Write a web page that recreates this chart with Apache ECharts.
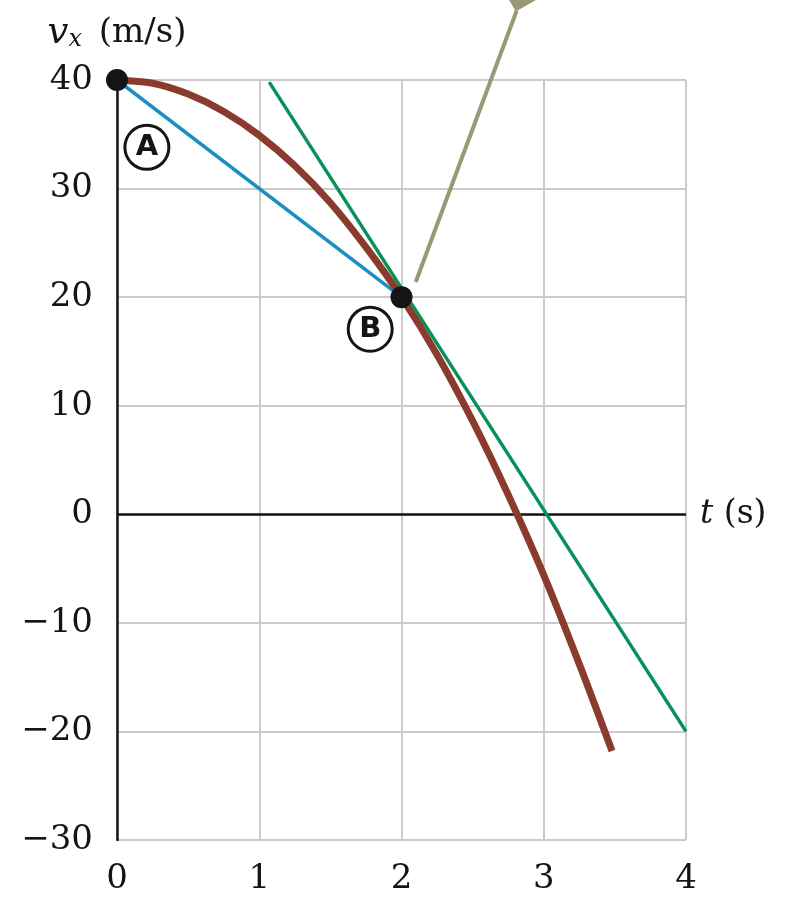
<!DOCTYPE html>
<html><head><meta charset="utf-8">
<script src="https://cdn.jsdelivr.net/npm/echarts@6/dist/echarts.min.js"></script>
<style>html,body{margin:0;padding:0;background:#fff}#c{width:786px;height:899px}</style>
</head><body><div id="c"></div>
<script>
// Data
const xTicks = [0, 1, 2, 3, 4];
const yTicks = [-30, -20, -10, 0, 10, 20, 30, 40];
const curveT = [0, 0.25, 0.5, 0.75, 1, 1.25, 1.5, 1.75, 2, 2.25, 2.5, 2.75, 3, 3.25, 3.48];
const curveV = [40, 39.7, 38.7, 37.1, 34.9, 32.1, 28.7, 24.6, 20, 14.7, 8.6, 1.8, -5.6, -13.8, -21.8];
const chordT = [0, 2];
const chordV = [40, 20];
const tangentT = [1.07, 4];
const tangentV = [39.8, -20];
const pointerT = [2.1, 2.81];
const pointerV = [21.4, 46.4];
const pointerHead = [[2.82, 47.1]];
const dotPoints = [[0, 40], [2, 20]];
const markerNames = ['A', 'B'];
const markerPos = [[0.21, 33.8], [1.78, 17.05]];

const zip = (a, b) => a.map((v, i) => [v, b[i]]);
const serif = 'DejaVu Serif';
const ink = '#151515';
const chart = echarts.init(document.getElementById('c'));
chart.setOption({
  animation: false,
  grid: { left: 117, right: 100, top: 80, bottom: 59, containLabel: false },
  xAxis: {
    type: 'value', min: 0, max: 4, interval: 1,
    axisLine: { show: false, onZero: false },
    axisTick: { show: false },
    splitLine: { show: true, lineStyle: { color: '#cbcbcb', width: 2 } },
    axisLabel: { margin: 22, fontFamily: serif, fontSize: 34, color: ink,
      formatter: v => xTicks.includes(v) ? String(v) : '' }
  },
  yAxis: {
    type: 'value', min: -30, max: 40, interval: 10,
    name: '{v|v}{s|x} (m/s)',
    nameLocation: 'end', nameGap: 28,
    nameTextStyle: { fontFamily: serif, fontSize: 34, color: ink, align: 'center',
      rich: { v: { fontFamily: serif, fontStyle: 'italic', fontSize: 37, color: ink },
              s: { fontFamily: serif, fontStyle: 'italic', fontSize: 24, color: ink, verticalAlign: 'bottom', padding: [14, 6, 0, 0] } } },
    axisLine: { show: true, onZero: false, lineStyle: { color: ink, width: 2.5 } },
    axisTick: { show: false },
    splitLine: { show: true, lineStyle: { color: '#cbcbcb', width: 2 } },
    axisLabel: { margin: 24, fontFamily: serif, fontSize: 34, color: ink,
      formatter: v => yTicks.includes(v) ? (v < 0 ? '\u2212' + Math.abs(v) : String(v)) : '' }
  },
  series: [
    {
      type: 'line', data: zip(chordT, chordV), symbol: 'none', z: 3,
      lineStyle: { color: '#1b8fc2', width: 3.5 },
      markLine: {
        silent: true, symbol: 'none', z: 2,
        lineStyle: { color: ink, width: 2.5, type: 'solid' },
        label: { show: true, position: 'end', distance: 14, formatter: '{i|t} (s)',
          fontFamily: serif, fontSize: 33, color: ink,
          rich: { i: { fontFamily: serif, fontStyle: 'italic', fontSize: 33, color: ink } } },
        data: [{ yAxis: 0 }]
      }
    },
    {
      type: 'line', data: zip(tangentT, tangentV), symbol: 'none', z: 3,
      lineStyle: { color: '#05925a', width: 3.5 }
    },
    {
      type: 'line', data: zip(curveT, curveV), symbol: 'none', smooth: 0.3, z: 4,
      lineStyle: { color: '#8a3b2d', width: 7 }
    },
    {
      type: 'line', data: zip(pointerT, pointerV), symbol: 'none', clip: false, z: 3,
      lineStyle: { color: '#9b9877', width: 4 }
    },
    {
      type: 'scatter', data: pointerHead, symbol: 'triangle', symbolRotate: 165,
      symbolSize: [36, 18], clip: false, z: 3, itemStyle: { color: '#9b9877', opacity: 1 }
    },
    {
      type: 'scatter', data: dotPoints, symbol: 'circle', symbolSize: 22, clip: false, z: 6,
      itemStyle: { color: ink, opacity: 1 }
    },
    {
      type: 'scatter', data: markerPos.map((p, i) => ({ value: p, name: markerNames[i] })),
      symbol: 'circle', symbolSize: 44, clip: false, z: 6,
      itemStyle: { color: '#ffffff', borderColor: ink, borderWidth: 3, opacity: 1 },
      label: { show: true, position: 'inside', formatter: p => p.name,
        fontFamily: 'DejaVu Sans', fontWeight: 'bold', fontSize: 29, color: ink }
    }
  ]
});
</script></body></html>
